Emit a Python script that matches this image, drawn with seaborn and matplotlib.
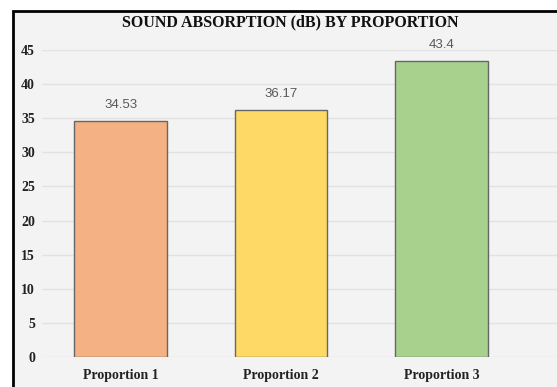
import matplotlib
matplotlib.use("Agg")
import matplotlib.pyplot as plt
import seaborn as sns
import pandas as pd
from matplotlib.patches import Rectangle

categories = ["Proportion 1", "Proportion 2", "Proportion 3"]
values = [34.53, 36.17, 43.4]
value_labels = ["34.53", "36.17", "43.4"]
colors = ["#F4B183", "#FFD966", "#A9D18E"]
yticks = [0, 5, 10, 15, 20, 25, 30, 35, 40, 45]
title = "SOUND ABSORPTION (dB) BY PROPORTION"

sns.set_theme(style="white")
plt.rcParams["font.family"] = ["Liberation Serif", "DejaVu Serif"]

W, H = 557, 387
fig = plt.figure(figsize=(W / 100, H / 100), dpi=100, facecolor="white")

# outer chart frame (cropped at right and bottom)
frame = Rectangle((13.5 / W, -0.05), 1.2, (H - 11) / H + 0.05, transform=fig.transFigure,
                  facecolor="#f3f3f3", edgecolor="black", linewidth=2, zorder=-5)
fig.patches.append(frame)

ax = fig.add_axes([42 / W, 30 / H, 1 - 42 / W, 307 / H])
ax.set_facecolor("none")
ax.set_zorder(2)

df = pd.DataFrame({"cat": categories, "val": values})
sns.barplot(data=df, x="cat", y="val", hue="cat", palette=colors, legend=False,
            saturation=1, width=0.575, ax=ax, edgecolor="#666666", linewidth=1.0, zorder=3)

ax.set_xlim(-0.49, 2.72)
ax.set_ylim(0, 45)
ax.set_yticks(yticks)
ax.set_yticklabels([str(t) for t in yticks], fontweight="bold", fontsize=10, color="#222222")
ax.set_xticks(range(len(categories)))
ax.set_xticklabels(categories, fontweight="bold", fontsize=10, color="#222222")
ax.tick_params(axis="y", length=0, pad=5)
ax.tick_params(axis="x", length=0, pad=9)
ax.yaxis.grid(True, color="#e2e2e2", linewidth=1, zorder=0)
ax.set_axisbelow(True)
for s in ax.spines.values():
    s.set_visible(False)
ax.set_xlabel("")
ax.set_ylabel("")

for i, (v, lab) in enumerate(zip(values, value_labels)):
    ax.text(i, v + 1.5, lab, ha="center", va="bottom", fontsize=9.5, color="#595959",
            family=["Liberation Sans", "DejaVu Sans"], clip_on=False)

fig.text(290 / W, 1 - 22 / H, title, ha="center", va="center", fontsize=11.5,
         fontweight="bold", color="#111111", zorder=5)

fig.savefig("out.png", dpi=100, facecolor="white")
